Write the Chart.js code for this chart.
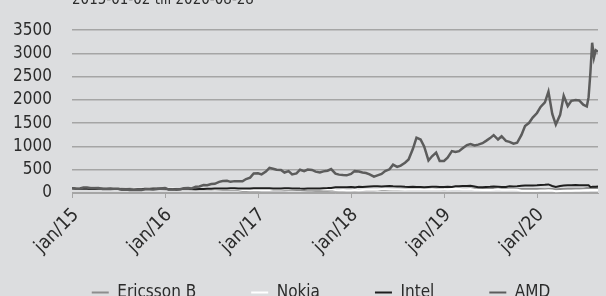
<!DOCTYPE html>
<html>
<head>
<meta charset="utf-8">
<script src="https://cdn.jsdelivr.net/npm/chart.js@4"></script>
<style>
  html, body { margin: 0; padding: 0; background: #dcdddf; }
</style>
</head>
<body>
<canvas id="chart"></canvas>
<script>
const periodLabel = "2015-01-02 till 2020-08-28";
const yearTicks = [2015, 2016, 2017, 2018, 2019, 2020];
const valueTicks = [0, 500, 1000, 1500, 2000, 2500, 3000, 3500];
const lastDate = "2020-08-28";

// observations on the 1st and 15th of each month, weekly at the very end
const dates = [];
for (let y = 2015; y <= 2020; y++) {
  const lastMonth = y === 2020 ? 6 : 12;
  for (let m = 1; m <= lastMonth; m++) {
    const mm = String(m).padStart(2, "0");
    dates.push(`${y}-${mm}-01`, `${y}-${mm}-15`);
  }
}
dates.push("2020-07-01", "2020-07-15", "2020-07-22", "2020-07-29",
  "2020-08-05", "2020-08-12", "2020-08-19", lastDate);

// index, 2015-01-02 = 100
const ericsson = [
  100, 102, 105, 110, 114, 114, 115, 105, 100, 98, 95, 92, 91, 97, 98, 95, 86, 85, 86, 89, 88, 91, 89, 84,
  81, 79, 77, 82, 84, 82, 78, 76, 69, 70, 73, 68, 65, 68, 62, 63, 66, 65, 67, 63, 51, 48, 49, 56,
  56, 57, 58, 60, 61, 62, 60, 59, 66, 65, 65, 63, 59, 54, 54, 51, 49, 51, 49, 55, 55, 56, 56, 57,
  57, 55, 58, 57, 60, 61, 60, 63, 62, 66, 66, 71, 72, 73, 75, 78, 81, 83, 83, 81, 83, 83, 84, 82,
  82, 84, 85, 86, 89, 91, 91, 95, 98, 99, 97, 94, 94, 93, 93, 91, 86, 83, 83, 86, 85, 86, 88, 86,
  86, 84, 81, 86, 86, 77, 84, 88, 89, 91, 94, 92, 92, 108, 110, 108, 109, 109, 109, 110,
];
const nokia = [
  100, 99, 105, 110, 111, 108, 107, 95, 93, 96, 98, 95, 94, 93, 95, 90, 89, 90, 90, 95, 104, 102, 102, 101,
  101, 92, 95, 85, 82, 81, 79, 82, 76, 76, 79, 76, 75, 72, 76, 79, 79, 78, 78, 79, 63, 63, 61, 67,
  69, 66, 64, 66, 75, 75, 76, 79, 78, 81, 85, 89, 84, 82, 79, 79, 79, 76, 76, 78, 63, 61, 63, 60,
  60, 67, 61, 67, 70, 70, 69, 72, 81, 79, 76, 75, 75, 75, 72, 73, 73, 73, 75, 73, 76, 78, 75, 76,
  78, 82, 84, 85, 84, 81, 79, 84, 70, 70, 66, 67, 67, 70, 78, 72, 70, 70, 69, 70, 50, 49, 49, 50,
  50, 53, 55, 60, 55, 38, 43, 47, 49, 50, 56, 56, 60, 58, 60, 63, 63, 63, 64, 63,
];
const intel = [
  100, 95, 92, 95, 91, 87, 86, 89, 89, 94, 95, 85, 84, 80, 79, 78, 76, 80, 83, 92, 94, 95, 95, 95,
  95, 83, 85, 81, 81, 89, 89, 87, 83, 84, 87, 89, 90, 95, 96, 97, 99, 103, 104, 96, 96, 98, 97, 102,
  100, 103, 101, 100, 99, 98, 99, 100, 100, 96, 99, 95, 93, 98, 98, 96, 97, 102, 105, 110, 124, 122, 123, 125,
  127, 121, 132, 128, 135, 140, 143, 144, 142, 147, 151, 143, 138, 138, 132, 129, 133, 127, 130, 124, 129, 132, 133, 127,
  129, 132, 131, 143, 146, 148, 149, 157, 140, 122, 121, 127, 132, 139, 135, 127, 130, 143, 142, 143, 155, 160, 160, 161,
  165, 171, 176, 184, 151, 129, 149, 160, 165, 165, 173, 165, 165, 166, 165, 131, 133, 136, 137, 139,
];
const amd = [
  100, 92, 96, 116, 118, 103, 100, 109, 86, 84, 86, 92, 90, 71, 73, 67, 64, 67, 66, 79, 79, 77, 86, 97,
  107, 75, 82, 71, 81, 103, 107, 99, 135, 142, 170, 169, 193, 198, 240, 258, 262, 240, 255, 250, 252, 300, 330, 420,
  425, 400, 460, 540, 520, 500, 495, 440, 470, 400, 420, 500, 470, 505, 495, 460, 440, 465, 480, 515, 415, 395, 385, 380,
  410, 470, 460, 440, 430, 400, 350, 380, 410, 470, 510, 610, 560, 590, 650, 720, 950, 1190, 1150, 1000, 700, 790, 870, 690,
  690, 760, 900, 880, 900, 960, 1030, 1050, 1020, 1040, 1070, 1120, 1180, 1245, 1150, 1220, 1120, 1100, 1060, 1080, 1250, 1440, 1510, 1620,
  1720, 1850, 1950, 2180, 1700, 1470, 1680, 2090, 1870, 1980, 2000, 1990, 1900, 1860, 2060, 2580, 3230, 2910, 3070, 3040,
];

function toYear(s) {
  const [y, m, d] = s.split("-").map(Number);
  const start = Date.UTC(y, 0, 1);
  const end = Date.UTC(y + 1, 0, 1);
  return y + (Date.UTC(y, m - 1, d) - start) / (end - start);
}

function points(values) {
  return values.map((v, i) => ({ x: toYear(dates[i]), y: v }));
}

const fontFamily = "'DejaVu Sans Condensed', 'DejaVu Sans', sans-serif";
const textColor = "#2b2b2b";
const gridColor = "#a5a5a5";
const legendPadding = 55;

const periodTitle = {
  id: "periodTitle",
  afterDraw(chart) {
    const { ctx, chartArea } = chart;
    ctx.save();
    ctx.font = `15px ${fontFamily}`;
    ctx.fillStyle = textColor;
    ctx.textBaseline = "alphabetic";
    ctx.fillText(periodLabel, chartArea.left, 4);
    ctx.restore();
  },
};

// the legend sits low, partly below the bottom edge, and a bit right of centre
const legendPlacement = {
  id: "legendPlacement",
  afterLayout(chart) {
    const legend = chart.legend;
    legend.top = 284 - legendPadding;
    legend.bottom = chart.height + 20;
    legend.left += 22;
    legend.right += 22;
  },
};

function series(label, values, color, width, order) {
  return {
    label: label,
    data: points(values),
    borderColor: color,
    backgroundColor: color,
    borderWidth: width,
    pointRadius: 0,
    tension: 0,
    order: order,
  };
}

const canvas = document.getElementById("chart");
canvas.width = 606;
canvas.height = 296;

new Chart(canvas.getContext("2d"), {
  type: "line",
  data: {
    datasets: [
      series("Ericsson B", ericsson, "#8d8d8d", 2, 3),
      series("Nokia", nokia, "#ffffff", 2, 2),
      series("Intel", intel, "#1e1e1e", 2, 1),
      series("AMD", amd, "#5c5c5c", 2.5, 0),
    ],
  },
  options: {
    responsive: false,
    animation: false,
    layout: {
      padding: { left: 0, right: 8, top: 13, bottom: 0 },
    },
    plugins: {
      title: { display: false },
      tooltip: { enabled: false },
      legend: {
        display: true,
        position: "bottom",
        maxHeight: 36,
        labels: {
          color: textColor,
          font: { family: fontFamily, size: 17 },
          boxWidth: 17,
          boxHeight: 2,
          padding: legendPadding,
          sort: (a, b) => a.datasetIndex - b.datasetIndex,
          generateLabels: (chart) =>
            Chart.defaults.plugins.legend.labels.generateLabels(chart).map((item) => ({ ...item, lineWidth: 0 })),
        },
      },
    },
    scales: {
      x: {
        type: "linear",
        min: yearTicks[0],
        max: toYear(lastDate),
        afterBuildTicks: (scale) => {
          scale.ticks = yearTicks.map((v) => ({ value: v }));
        },
        afterFit: (scale) => {
          scale.height = 67;
        },
        ticks: {
          autoSkip: false,
          minRotation: 45,
          maxRotation: 45,
          padding: 6,
          labelOffset: 4,
          color: textColor,
          font: { family: fontFamily, size: 19 },
          callback: (value) => "jan/" + String(value).slice(2),
        },
        grid: {
          drawOnChartArea: false,
          color: gridColor,
          tickLength: 5,
        },
        border: { color: gridColor },
      },
      y: {
        min: 0,
        max: 3500,
        afterBuildTicks: (scale) => {
          scale.ticks = valueTicks.map((v) => ({ value: v }));
        },
        afterFit: (scale) => {
          scale.width = 72;
        },
        ticks: {
          autoSkip: false,
          padding: 20,
          color: textColor,
          font: { family: fontFamily, size: 17 },
          callback: (value) => String(value),
        },
        grid: {
          color: gridColor,
          lineWidth: 1.5,
          drawTicks: false,
        },
        border: { display: false },
      },
    },
  },
  plugins: [periodTitle, legendPlacement],
});
</script>
</body>
</html>
